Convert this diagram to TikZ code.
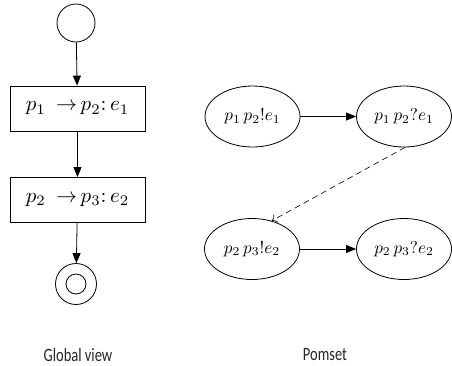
\documentclass[tikz,border=0pt]{standalone}
\usepackage{graphicx}
\usepackage{fontspec}
\setsansfont{Carlito}
\usetikzlibrary{shapes.geometric,arrows.meta}
\newcommand{\boxtxt}[1]{\scalebox{2.1}{$#1$}}
\newcommand{\evtxt}[1]{\scalebox{1.72}{$#1$}}
\newcommand{\captext}[1]{\scalebox{1}[1.3]{#1}}
\begin{document}
\begin{tikzpicture}[x=1pt,y=-1pt,
  line width=0.8pt,
  stepbox/.style={draw,minimum width=135pt,minimum height=45pt,inner sep=0pt},
  ev/.style={draw,ellipse,minimum width=95pt,minimum height=61pt,inner sep=0pt},
  arr/.style={-{Triangle[width=8pt,length=10pt]}},
  darr/.style={dashed,dash pattern=on 6pt off 4pt,-{To[length=5pt,width=9pt]},line width=0.6pt},
  captxt/.style={font=\sffamily\fontsize{14.5}{16}\selectfont,text=black!85}]
\useasboundingbox (0,0) rectangle (452,365);
\node[draw,circle,minimum size=38pt,inner sep=0pt] (start) at (76,23) {};
\node[stepbox] (b1) at (77.5,108.5) {\boxtxt{p_1\ \,{\rightarrow}\, p_2{:}\, e_1}};
\node[stepbox] (b2) at (77.5,200) {\boxtxt{p_2\ \,{\rightarrow}\, p_3{:}\, e_2}};
\node[draw,circle,minimum size=41pt,inner sep=0pt] (end) at (76,284) {};
\node[draw,circle,minimum size=20pt,inner sep=0pt] (endin) at (76,284) {};
\draw[arr] (start) -- (b1);
\draw[arr] (b1) -- (b2);
\draw[arr] (b2) -- (end);
\node[ev] (e1) at (252.5,116.5) {\evtxt{p_1\,p_2!e_1}};
\node[ev] (e2) at (404,116.5) {\evtxt{p_1\,p_2?e_1}};
\node[ev] (e3) at (252,249) {\evtxt{p_2\,p_3!e_2}};
\node[ev] (e4) at (404,249) {\evtxt{p_2\,p_3?e_2}};
\draw[arr] (e1) -- (e2);
\draw[arr] (e3) -- (e4);
\draw[darr] (e2.-88) -- (e3.55);
\node[captxt] (gv) at (78,355) {\captext{Global view}};
\node[captxt] (pm) at (325,355) {\captext{Pomset}};
\end{tikzpicture}
\end{document}
